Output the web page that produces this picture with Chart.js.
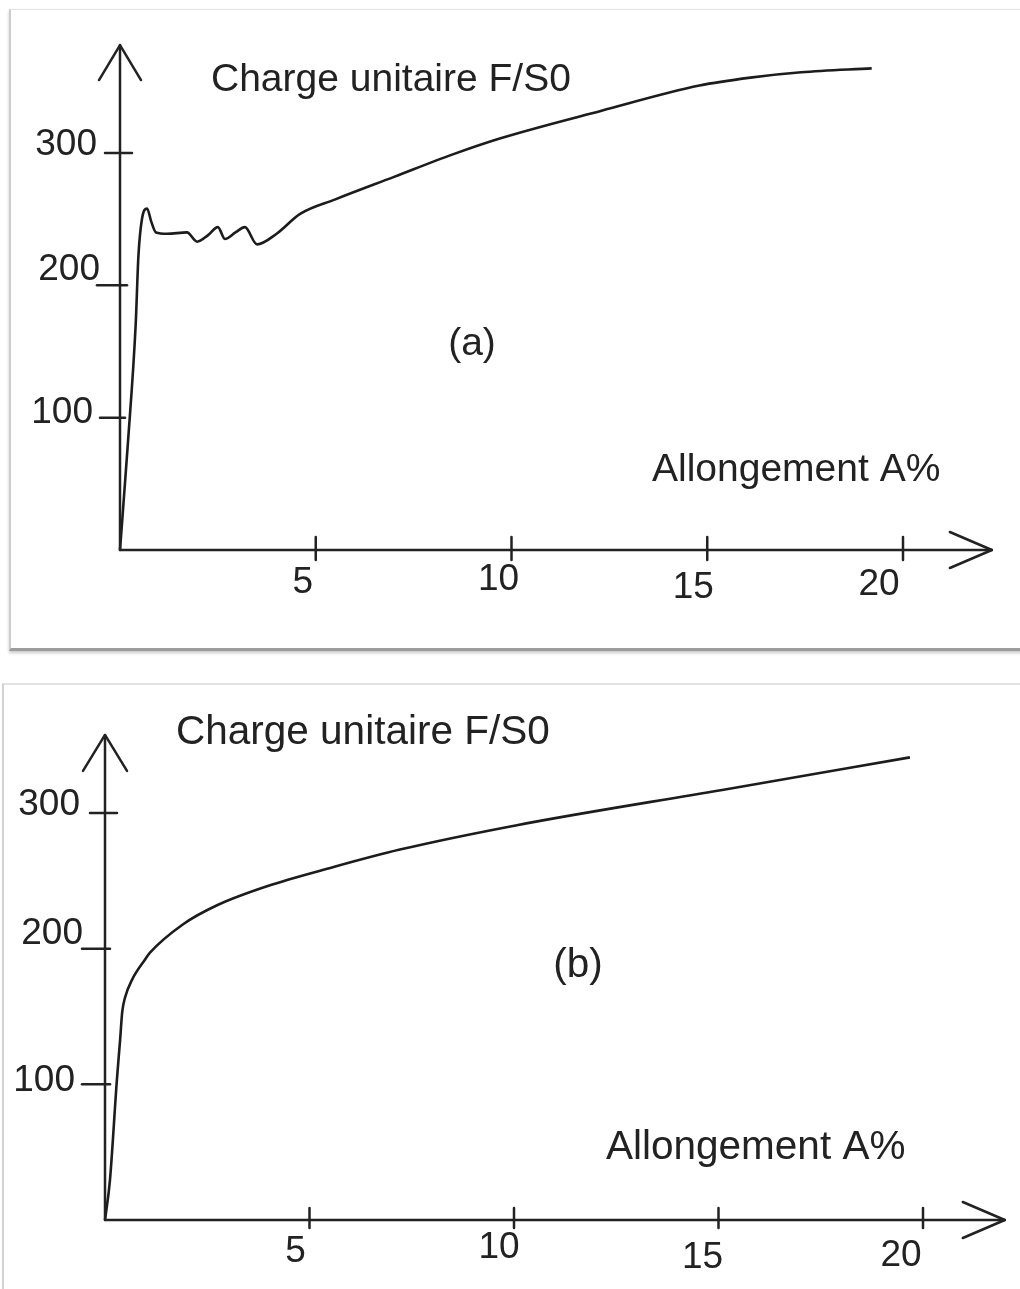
<!DOCTYPE html>
<html>
<head>
<meta charset="utf-8">
<script src="https://cdn.jsdelivr.net/npm/chart.js@4.4.1/dist/chart.umd.min.js"></script>
<style>
  html, body { margin: 0; padding: 0; background: #fff; }
  body { width: 1020px; height: 1289px; position: relative; overflow: hidden; }
  .frame-a { position: absolute; left: 9px; top: 9px; width: 1030px; height: 638px;
             border-left: 2px solid #cdcdcd; border-top: 1px solid #e4e4e4;
             border-bottom: 3px solid #9c9c9c; box-shadow: 0 2px 3px rgba(0,0,0,0.22); }
  .frame-b { position: absolute; left: 2px; top: 683px; width: 1030px; height: 700px;
             border-left: 2px solid #d2d2d2; border-top: 2px solid #e2e2e2; }
  canvas { position: absolute; left: 0; }
</style>
</head>
<body>
<div class="frame-a"></div>
<div class="frame-b"></div>
<canvas id="chartA" width="1020" height="660" style="top:0"></canvas>
<canvas id="chartB" width="1020" height="629" style="top:660px"></canvas>
<script>
// Tensile test curves: unit load F/S0 against elongation A%
// (a) steel with a yield plateau, (b) steel with a continuous yield
const strainA = [0, 0.20, 0.40, 0.47, 0.56, 0.69, 0.80, 0.92, 1.20, 1.71, 1.97, 2.25, 2.50, 2.68, 2.95, 3.19, 3.50, 4.00, 4.60, 5.50, 7.00, 8.50, 9.70, 12.30, 14.80, 16.10, 17.40, 19.20];
const stressA = [0, 80, 170, 222, 250, 258, 248, 240, 239, 240, 233, 238, 244, 235, 240, 244, 231, 239, 254, 265, 282, 299, 311, 332, 351, 357, 361, 364];

const strainB = [0, 0.12, 0.29, 0.37, 0.42, 0.49, 0.66, 0.98, 1.10, 1.91, 2.74, 3.96, 5.57, 7.21, 10.07, 15.09, 19.68];
const stressB = [0, 29, 103, 133, 153, 164, 177, 192, 197, 218, 232, 246, 260, 273, 291, 317, 341];

const xTickValues = [5, 10, 15, 20];
const yTickValues = [100, 200, 300];
const yAxisTitle = 'Charge unitaire F/S0';
const xAxisTitle = 'Allongement A%';
const panelTags = ['(a)', '(b)'];

const INK = '#222222';
const FONT = '"Liberation Sans", Arial, sans-serif';

// Hand-drawn style axes: arrows, crossing ticks and loosely placed labels
const sketchAxes = {
  id: 'sketchAxes',
  afterDatasetsDraw(chart, args, o) {
    const ctx = chart.ctx;
    const xs = chart.scales.x, ys = chart.scales.y;
    const X = v => xs.getPixelForValue(v);
    const Y = v => ys.getPixelForValue(v);
    const x0 = X(0), y0 = Y(0);
    const seg = (a, b, c, d) => { ctx.beginPath(); ctx.moveTo(a, b); ctx.lineTo(c, d); ctx.stroke(); };

    ctx.save();
    ctx.strokeStyle = INK;
    ctx.lineCap = 'round';
    ctx.lineJoin = 'round';
    ctx.lineWidth = 2.5;

    // vertical axis
    const yTip = Y(o.yArrow);
    seg(x0, y0, x0, yTip);
    ctx.beginPath();
    ctx.moveTo(x0 - o.yHead[0], yTip + o.yHead[1]);
    ctx.lineTo(x0, yTip);
    ctx.lineTo(x0 + o.yHead[0], yTip + o.yHead[1]);
    ctx.stroke();

    // horizontal axis
    const xTip = X(o.xArrow);
    seg(x0, y0, xTip, y0);
    ctx.beginPath();
    ctx.moveTo(xTip - o.xHead[0], y0 - o.xHead[1]);
    ctx.lineTo(xTip, y0);
    ctx.lineTo(xTip - o.xHead[0], y0 + o.xHead[1]);
    ctx.stroke();

    ctx.fillStyle = INK;
    ctx.font = o.tickFont;

    // x ticks and labels
    xTickValues.forEach((v, i) => {
      const px = X(v);
      seg(px, y0 - o.xTickUp, px, y0 + o.xTickDown);
      ctx.textAlign = 'center';
      ctx.textBaseline = 'alphabetic';
      ctx.fillText(String(v), px + o.xLabelDx[i], y0 + o.xLabelDy[i]);
    });

    // y ticks and labels
    yTickValues.forEach((v, i) => {
      const py = Y(v);
      seg(x0 - o.yTickLeft[i], py, x0 + o.yTickRight[i], py);
      ctx.textAlign = 'right';
      ctx.textBaseline = 'alphabetic';
      ctx.fillText(String(v), x0 + o.yLabelDx[i], py + o.yLabelDy[i]);
    });

    // titles
    ctx.font = o.titleFont;
    ctx.textAlign = 'left';
    ctx.textBaseline = 'alphabetic';
    ctx.fillText(yAxisTitle, o.yTitle[0], o.yTitle[1]);
    ctx.fillText(xAxisTitle, o.xTitle[0], o.xTitle[1]);
    ctx.textAlign = 'center';
    ctx.fillText(o.tag, o.tagPos[0], o.tagPos[1]);

    ctx.restore();
  }
};

function makeChart(id, strain, stress, padding, axes) {
  const points = strain.map((s, i) => ({ x: s, y: stress[i] }));
  return new Chart(document.getElementById(id), {
    type: 'scatter',
    data: {
      datasets: [{
        data: points,
        showLine: true,
        borderColor: '#1c1c1c',
        borderWidth: 2.6,
        pointRadius: 0,
        cubicInterpolationMode: 'monotone',
        fill: false,
        clip: false
      }]
    },
    options: {
      responsive: false,
      animation: false,
      devicePixelRatio: 1,
      layout: { padding },
      scales: {
        x: { type: 'linear', min: 0, max: 22, display: false },
        y: { type: 'linear', min: 0, max: 400, display: false }
      },
      plugins: {
        legend: { display: false },
        tooltip: { enabled: false },
        sketchAxes: axes
      }
    },
    plugins: [sketchAxes]
  });
}

makeChart('chartA', strainA, stressA,
  { left: 120, right: 38.7, top: 20.7, bottom: 110 },
  {
    yArrow: 381.6, yHead: [21, 35],
    xArrow: 22.27, xHead: [42, 18],
    xTickUp: 13, xTickDown: 10,
    xLabelDx: [-13, -13, -14, -24], xLabelDy: [43, 40, 48, 45],
    yTickLeft: [20, 23, 15], yTickRight: [5, 7, 12],
    yLabelDx: [-27, -20, -23], yLabelDy: [5, -5, 2],
    tickFont: '37px ' + FONT,
    titleFont: '39px ' + FONT,
    yTitle: [211, 91], xTitle: [652, 481],
    tag: panelTags[0], tagPos: [472, 355]
  });

makeChart('chartB', strainB, stressB,
  { left: 105, right: 15.2, top: 17.3, bottom: 69 },
  {
    yArrow: 357.5, yHead: [22, 36],
    xArrow: 22.0, xHead: [42, 18],
    xTickUp: 12, xTickDown: 8,
    xLabelDx: [-14, -15, -16, -22], xLabelDy: [42, 38, 48, 46],
    yTickLeft: [23, 23, 15], yTickRight: [5, 5, 12],
    yLabelDx: [-30, -22, -25], yLabelDy: [7, -5, 2],
    tickFont: '37px ' + FONT,
    titleFont: '40.5px ' + FONT,
    yTitle: [176, 84], xTitle: [606, 499],
    tag: panelTags[1], tagPos: [578, 317]
  });
</script>
</body>
</html>
